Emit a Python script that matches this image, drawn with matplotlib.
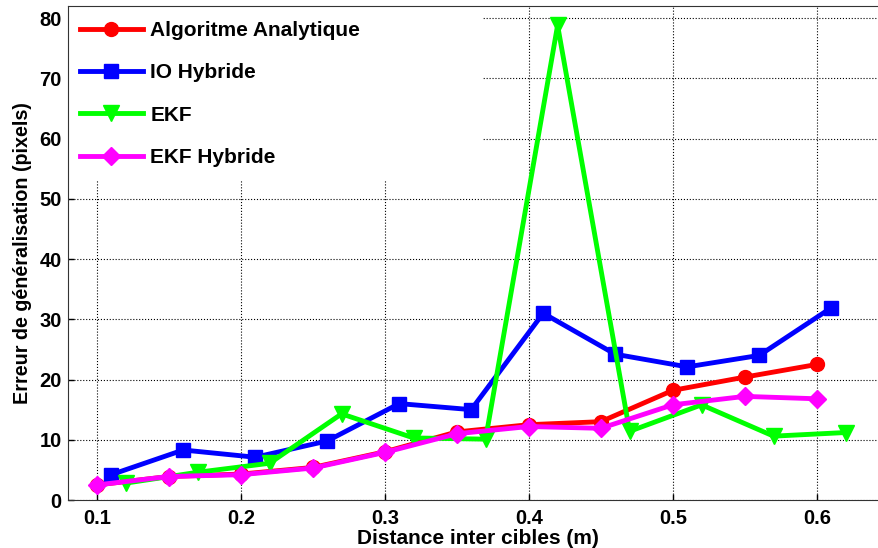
import matplotlib
matplotlib.use('Agg')
import matplotlib.pyplot as plt
from matplotlib.patches import Rectangle

plt.rcParams['font.family'] = ['Liberation Sans', 'DejaVu Sans']
plt.rcParams['font.weight'] = 'bold'

# Data
x_base = [0.10, 0.15, 0.20, 0.25, 0.30, 0.35, 0.40, 0.45, 0.50, 0.55, 0.60]
x_io = [0.11, 0.16, 0.21, 0.26, 0.31, 0.36, 0.41, 0.46, 0.51, 0.56, 0.61]
x_ekf = [0.12, 0.17, 0.22, 0.27, 0.32, 0.37, 0.42, 0.47, 0.52, 0.57, 0.62]

algo_analytique = [2.5, 3.9, 4.3, 5.4, 8.0, 11.3, 12.5, 13.0, 18.2, 20.4, 22.5]
io_hybride = [4.2, 8.3, 7.1, 9.8, 16.0, 15.0, 31.0, 24.2, 22.1, 24.0, 31.9]
ekf = [2.8, 4.6, 6.1, 14.3, 10.3, 10.1, 78.8, 11.4, 15.8, 10.6, 11.2]
ekf_hybride = [2.5, 3.9, 4.2, 5.3, 7.9, 11.0, 12.2, 11.9, 15.8, 17.2, 16.8]

labels = ['Algoritme Analytique', 'IO Hybride', 'EKF', 'EKF Hybride']

fig = plt.figure(figsize=(8.79, 5.48), dpi=100)
ax = fig.add_axes([68 / 879, 48 / 548, 820.8 / 879, 494 / 548])

ax.plot(x_base, algo_analytique, color='#ff0000', marker='o', markersize=10, linewidth=3.5, label=labels[0])
ax.plot(x_io, io_hybride, color='#0000ff', marker='s', markersize=10, linewidth=3.5, label=labels[1])
ax.plot(x_ekf, ekf, color='#00ff00', marker='v', markersize=11, linewidth=3.5, label=labels[2])
ax.plot(x_base, ekf_hybride, color='#ff00ff', marker='D', markersize=9, linewidth=3.5, label=labels[3])

ax.set_xlim(0.08, 0.65)
ax.set_ylim(0, 82)
ax.set_xticks([0.1, 0.2, 0.3, 0.4, 0.5, 0.6])
ax.set_yticks(range(0, 81, 10))
ax.tick_params(direction='in', length=4, width=1, labelsize=14.5)
ax.tick_params(axis='x', pad=6.5)
ax.tick_params(axis='y', pad=4.5)
ax.grid(True, linestyle=':', color='black', linewidth=0.8)
for s in ax.spines.values():
    s.set_color('#333333')

ax.set_xlabel('Distance inter cibles (m)', fontsize=15, fontweight='bold', labelpad=1)
ax.set_ylabel('Erreur de généralisation (pixels)', fontsize=14.2, fontweight='bold', labelpad=5)

# white legend area like the original
ax.add_patch(Rectangle((0, 0.648), 0.5056, 0.352, transform=ax.transAxes,
                       facecolor='white', edgecolor='none', zorder=1.8))
ax.legend(loc='upper left', bbox_to_anchor=(12 / 820.8, 1 - 15 / 494), frameon=False,
          fontsize=15, handlelength=3.0, handletextpad=0.38, labelspacing=1.12,
          borderpad=0, borderaxespad=0)

fig.savefig('out.png', dpi=100)
